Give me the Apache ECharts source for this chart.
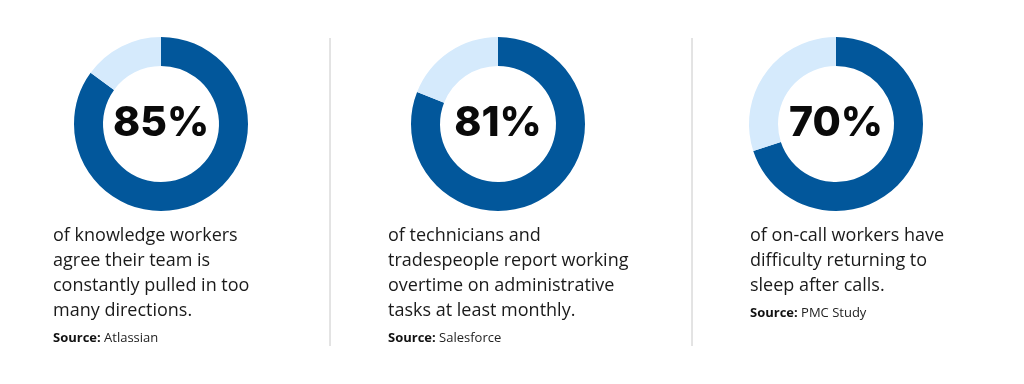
<!DOCTYPE html>
<html><head><meta charset="utf-8">
<script src="https://cdn.jsdelivr.net/npm/echarts@6/dist/echarts.min.js"></script>
<style>html,body{margin:0;padding:0;background:#fff}#c{width:1024px;height:384px}</style>
</head><body><div id="c"></div>
<script>
const percents = [85, 81, 70];
const descriptions = [
  "of knowledge workers\nagree their team is\nconstantly pulled in too\nmany directions.",
  "of technicians and\ntradespeople report working\novertime on administrative\ntasks at least monthly.",
  "of on-call workers have\ndifficulty returning to\nsleep after calls."
];
const sources = ["Atlassian", "Salesforce", "PMC Study"];

const centersX = [161, 498, 836];
const textX = [53, 388, 750];
const centerY = 124;
const dark = '#02579b', light = '#d5eafc';

const series = percents.map((p, i) => ({
  type: 'pie',
  center: [centersX[i], centerY],
  radius: [58, 87],
  startAngle: 90,
  clockwise: true,
  silent: true,
  avoidLabelOverlap: false,
  labelLine: { show: false },
  data: [
    { value: p, itemStyle: { color: dark },
      label: { show: true, position: 'center', formatter: p + '%',
        fontFamily: 'Inter', fontWeight: 800, fontSize: 41, color: '#0a0a0a' } },
    { value: 100 - p, itemStyle: { color: light }, label: { show: false } }
  ]
}));

const graphics = [];
descriptions.forEach((d, i) => {
  const nLines = d.split('\n').length;
  graphics.push({
    type: 'text', left: textX[i], top: 223,
    style: { text: d, fontFamily: 'Open Sans', fontSize: 18, lineHeight: 25, fill: '#1a1a1a' }
  });
  graphics.push({
    type: 'text', left: textX[i], top: 223 + nLines * 25 + 9,
    style: {
      text: '{b|Source:} {n|' + sources[i] + '}',
      rich: {
        b: { fontFamily: 'Open Sans', fontWeight: 700, fontSize: 13, fill: '#111' },
        n: { fontFamily: 'Open Sans', fontSize: 13, fill: '#222' }
      }
    }
  });
});
[330, 692].forEach(x => graphics.push({
  type: 'line', shape: { x1: x, y1: 38, x2: x, y2: 346 },
  style: { stroke: '#c8c8c8', lineWidth: 1 }
}));

const chart = echarts.init(document.getElementById('c'));
chart.setOption({ animation: false, series, graphic: graphics });
</script></body></html>
